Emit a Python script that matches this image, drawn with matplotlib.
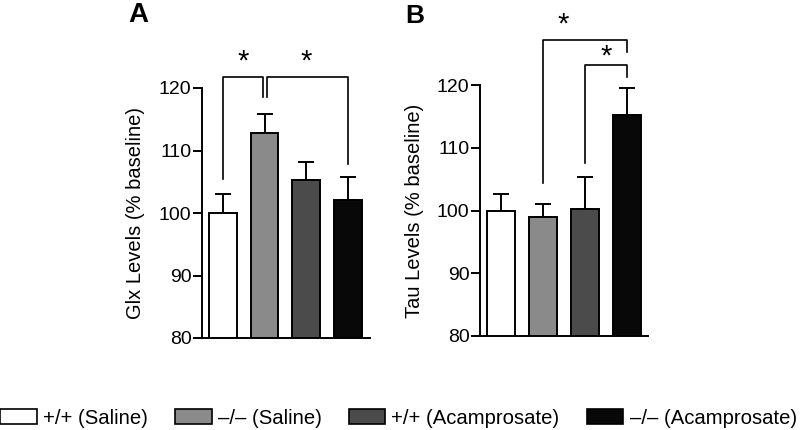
import numpy as np
import matplotlib.pyplot as plt

groups = ['+/+ (Saline)', '–/– (Saline)', '+/+ (Acamprosate)', '–/– (Acamprosate)']
colors = ['white', '#8a8a8a', '#4b4b4b', '#080808']

glx_mean = [100.0, 112.8, 105.3, 102.1]
glx_err = [3.0, 3.0, 2.9, 3.7]
tau_mean = [100.0, 98.9, 100.2, 115.2]
tau_err = [2.7, 2.2, 5.2, 4.4]

plt.rcParams['font.family'] = ['Liberation Sans', 'DejaVu Sans']

fig = plt.figure(figsize=(8, 4.3), dpi=100)
axA = fig.add_axes([202 / 800, 1 - 338 / 430, 168 / 800, 250 / 430])
axB = fig.add_axes([480 / 800, 1 - 336 / 430, 168 / 800, 251 / 430])

x = np.arange(4)


def drawPanel(ax, means, errs, ylabel, xlim, labelx):
    ax.bar(x, means, width=0.67, color=colors, edgecolor='black', linewidth=1.4, zorder=2)
    ax.errorbar(x, means, yerr=[np.zeros(4), errs], fmt='none', ecolor='black',
                elinewidth=1.4, capsize=6, capthick=1.4, zorder=1)
    ax.set_ylim(80, 120)
    ax.set_xlim(*xlim)
    ax.set_yticks([80, 90, 100, 110, 120])
    ax.set_xticks([])
    ax.spines['top'].set_visible(False)
    ax.spines['right'].set_visible(False)
    ax.spines['left'].set_linewidth(1.4)
    ax.spines['bottom'].set_linewidth(1.4)
    ax.tick_params(axis='y', direction='out', length=6.5, width=1.4, labelsize=14, pad=1)
    ax.set_ylabel(ylabel, fontsize=14.5, va='center')
    ax.yaxis.set_label_coords(labelx, 0.5)


def bracket(ax, x1, x2, top, y1, y2):
    ax.plot([x1, x1, x2, x2], [y1, top, top, y2], color='black', lw=1.2, clip_on=False)


drawPanel(axA, glx_mean, glx_err, 'Glx Levels (% baseline)', (-0.5, 3.53), -0.395)
drawPanel(axB, tau_mean, tau_err, 'Tau Levels (% baseline)', (-0.51, 3.5), -0.39)

# significance brackets, panel A
bracket(axA, 0.0, 0.96, 121.8, 105.5, 118.5)
bracket(axA, 1.07, 3.0, 121.8, 118.5, 107.9)
axA.text(0.49, 124.3, '*', ha='center', va='center', fontsize=21, clip_on=False)
axA.text(2.01, 124.3, '*', ha='center', va='center', fontsize=21, clip_on=False)

# significance brackets, panel B
bracket(axB, 1.0, 3.0, 127.2, 104.4, 125.3)
bracket(axB, 2.0, 3.0, 123.2, 107.6, 121.3)
axB.text(1.48, 129.6, '*', ha='center', va='center', fontsize=21, clip_on=False)
axB.text(2.51, 124.6, '*', ha='center', va='center', fontsize=21, clip_on=False)

fig.text(138.5 / 800, 1 - 15 / 430, 'A', fontsize=20, fontweight='bold', ha='center', va='center')
fig.text(415 / 800, 1 - 16 / 430, 'B', fontsize=19, fontweight='bold', ha='center', va='center')

handles = [plt.Rectangle((0, 0), 1, 1, facecolor=c, edgecolor='black', linewidth=1.2) for c in colors]
fig.legend(handles, groups, loc='center', bbox_to_anchor=(0.498, 1 - 418 / 430), ncol=4, frameon=False,
           fontsize=14.6, handlelength=1.8, handleheight=0.7, handletextpad=0.3, columnspacing=1.35,
           borderaxespad=0, borderpad=0)

fig.savefig('out.png', dpi=100)
